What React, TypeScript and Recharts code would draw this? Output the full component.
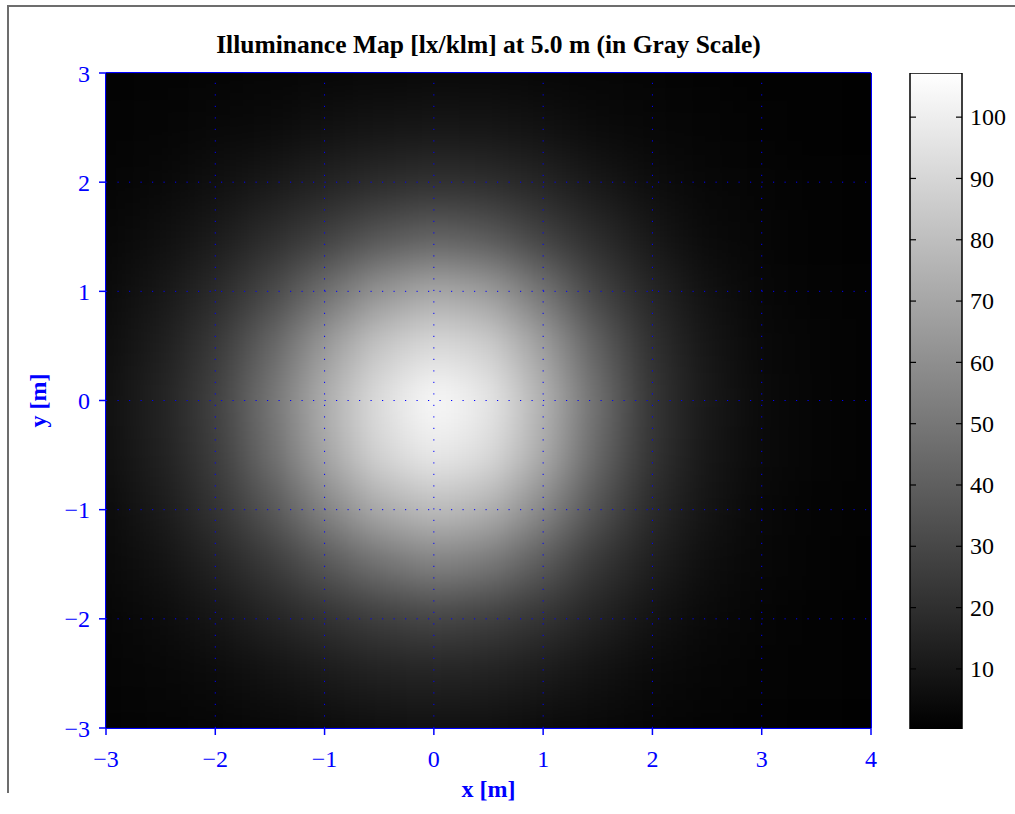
import React from 'react';
import {
  ScatterChart,
  BarChart,
  Bar,
  Scatter,
  XAxis,
  YAxis,
  ReferenceLine,
  ReferenceArea,
  CartesianGrid,
} from 'recharts';

// ---------- text ----------
const TITLE = 'Illuminance Map [lx/klm] at 5.0 m (in Gray Scale)';
const X_LABEL = 'x [m]';
const Y_LABEL = 'y [m]';

// ---------- axes ----------
const X_DOMAIN = [-3, 4];
const Y_DOMAIN = [-3, 3];
const X_TICKS = [-3, -2, -1, 0, 1, 2, 3, 4];
const Y_TICKS = [-3, -2, -1, 0, 1, 2, 3];
const X_GRID = [-2, -1, 0, 1, 2, 3];
const Y_GRID = [-2, -1, 0, 1, 2];
const CB_TICKS = [10, 20, 30, 40, 50, 60, 70, 80, 90, 100];
const CB_DOMAIN = [0.2, 107.2];
const CB_BAR = [{ name: 'colorbar', range: CB_DOMAIN }];

const GRID_X = [-3, -2.5, -2, -1.5, -1, -0.5, 0, 0.5, 1, 1.5, 2, 2.5, 3, 3.5, 4];
const GRID_Y = [3, 2.5, 2, 1.5, 1, 0.5, 0, -0.5, -1, -1.5, -2, -2.5, -3];
const ROW_P30 = [1.3, 1.7, 2.2, 2.7, 3.2, 3.7, 3.9, 3.8, 3.3, 2.7, 2.1, 1.5, 1.1, 0.9, 0.6];
const ROW_P25 = [1.8, 2.5, 3.4, 4.6, 7.1, 8.6, 9.5, 9.0, 7.3, 4.6, 3.2, 2.2, 1.5, 1.1, 0.8];
const ROW_P20 = [2.5, 3.7, 6.5, 10.2, 14.5, 18.3, 20.5, 19.0, 15.2, 10, 5.5, 3.3, 2.1, 1.4, 0.9];
const ROW_P15 = [3.3, 6.2, 11.1, 18.6, 26.5, 36.0, 41.0, 37.5, 27.5, 18.3, 10, 4.6, 2.6, 1.6, 1.1];
const ROW_P10 = [4.3, 9.5, 17.5, 29.5, 46.5, 62.5, 70.5, 66.0, 49.0, 28.5, 15.6, 7.3, 3.3, 2, 1.3];
const ROW_P05 = [5.8, 12.2, 23.5, 42.0, 65.0, 83.5, 92.0, 87.5, 67.5, 40.5, 20.4, 9.5, 4, 2.2, 1.4];
const ROW_000 = [6.8, 14.5, 27.0, 48.5, 73.3, 93.3, 106, 97.8, 75.4, 46.6, 22.4, 10.5, 4.3, 2.3, 1.4];
const ROW_M05 = [6.5, 13.8, 25.5, 45.5, 69.5, 89.4, 99.0, 92.8, 72.2, 43.6, 21.7, 10, 4.2, 2.3, 1.4];
const ROW_M10 = [5, 11.2, 21.0, 36.0, 55.5, 72.2, 79.9, 75.4, 57.7, 34.5, 17.9, 8.5, 3.6, 2, 1.3];
const ROW_M15 = [3.9, 7.9, 14.8, 24.0, 36.5, 48.2, 55.0, 50.8, 38.0, 23.0, 13.1, 6.1, 3.0, 1.8, 1.2];
const ROW_M20 = [2.9, 4.8, 9.0, 14.8, 20.7, 25.7, 29.1, 26.7, 21.4, 14.5, 8, 4, 2.4, 1.5, 1];
const ROW_M25 = [2.2, 3.3, 4.7, 7.9, 10.9, 14.2, 15.4, 14.5, 11.4, 7.7, 4.3, 2.7, 1.8, 1.3, 0.9];
const ROW_M30 = [1.6, 2.2, 2.9, 3.9, 5.2, 6.8, 7.3, 7.1, 5.4, 3.8, 2.7, 1.9, 1.4, 1.0, 0.7];
const ILLUM_ROWS = [
  ROW_P30, ROW_P25, ROW_P20, ROW_P15, ROW_P10, ROW_P05, ROW_000,
  ROW_M05, ROW_M10, ROW_M15, ROW_M20, ROW_M25, ROW_M30,
];
const GRID_STEP = 0.5;

const CELLS = GRID_Y.flatMap((y, r) => GRID_X.map((x, c) => ({ x, y, v: ILLUM_ROWS[r][c] })));

// ---------- style ----------
const SERIF = '"Liberation Serif", "Times New Roman", Times, serif';
const BLUE = '#0000ff';

// main chart layout
const MAIN_W = 900;
const MAIN_H = 800;
const MAIN_MARGIN = { top: 55, right: 27, bottom: 20, left: 38 };
const Y_LEFT_W = 60;
const Y_RIGHT_W = 10;
const X_BOTTOM_H = 60;
const X_TOP_H = 10;
const PLOT_W = MAIN_W - MAIN_MARGIN.left - MAIN_MARGIN.right - Y_LEFT_W - Y_RIGHT_W;
const PLOT_H = MAIN_H - MAIN_MARGIN.top - MAIN_MARGIN.bottom - X_BOTTOM_H - X_TOP_H;
const CELL_W = (PLOT_W / (X_DOMAIN[1] - X_DOMAIN[0])) * GRID_STEP + 1;
const CELL_H = (PLOT_H / (Y_DOMAIN[1] - Y_DOMAIN[0])) * GRID_STEP + 1;

// colorbar layout
const CB_W = 110;
const CB_H = 700;
const CB_MARGIN = { top: 10, right: 8, bottom: 34, left: 10 };
const CB_AXIS_W = 40;
const CB_BAR_W = CB_W - CB_MARGIN.left - CB_MARGIN.right - CB_AXIS_W;

const grayOf = (v: number) => {
  const t = Math.max(0, Math.min(1, (v - CB_DOMAIN[0]) / (CB_DOMAIN[1] - CB_DOMAIN[0])));
  const g = Math.round(t * 255);
  return `rgb(${g},${g},${g})`;
};

const fmt = (v: number) => String(v).replace('-', '\u2212');

const HeatCell = (props: any) => {
  const { cx, cy, payload } = props;
  if (cx == null || cy == null) return null;
  return (
    <rect
      x={cx - CELL_W / 2}
      y={cy - CELL_H / 2}
      width={CELL_W}
      height={CELL_H}
      fill={grayOf(payload.v)}
    />
  );
};

const TitleLabel = (props: any) => {
  const vb = props.viewBox || {};
  return (
    <text
      x={vb.x + vb.width / 2}
      y={vb.y - 10}
      textAnchor="middle"
      fontFamily={SERIF}
      fontWeight="bold"
      fontSize={25.5}
      fill="#000"
    >
      {TITLE}
    </text>
  );
};

const XAxisLabel = (props: any) => {
  const vb = props.viewBox || {};
  return (
    <text
      x={vb.x + vb.width / 2}
      y={vb.y + 68.5}
      textAnchor="middle"
      fontFamily={SERIF}
      fontWeight="bold"
      fontSize={24}
      fill={BLUE}
    >
      {X_LABEL}
    </text>
  );
};

const YAxisLabel = (props: any) => {
  const vb = props.viewBox || {};
  const x = vb.x;
  const y = vb.y + vb.height / 2;
  return (
    <text
      x={x}
      y={y}
      transform={`rotate(-90, ${x}, ${y})`}
      textAnchor="middle"
      fontFamily={SERIF}
      fontWeight="bold"
      fontSize={24}
      fill={BLUE}
    >
      {Y_LABEL}
    </text>
  );
};

const CbTick = (props: any) => {
  const { x, y, payload } = props;
  return (
    <g>
      <line x1={x - CB_BAR_W} y1={y} x2={x - CB_BAR_W + 6} y2={y} stroke="#000" strokeWidth={1.2} />
      <line x1={x - 6} y1={y} x2={x} y2={y} stroke="#000" strokeWidth={1.2} />
      <text x={x + 8} y={y} dy="0.34em" textAnchor="start" fontFamily={SERIF} fontSize={24} fill="#000">
        {payload.value}
      </text>
    </g>
  );
};

const tickStyle = { fill: BLUE, fontSize: 24, fontFamily: SERIF };
const axisLineStyle = { stroke: BLUE, strokeWidth: 2 };
const tickLineStyle = { stroke: BLUE, strokeWidth: 1.5 };

export default function App() {
  return (
    <div style={{ position: 'relative', width: 999, height: 798 }}>
      <style>{'body{overflow:hidden} .heat-layer{filter:url(#heatBlur)}'}</style>
      <svg width={0} height={0} style={{ position: 'absolute' }}>
        <defs>
          <filter
            id="heatBlur"
            x="-5%"
            y="-5%"
            width="110%"
            height="110%"
            colorInterpolationFilters="sRGB"
          >
            <feGaussianBlur stdDeviation={22} />
          </filter>
          <linearGradient id="cbGrad" x1="0" y1="1" x2="0" y2="0">
            <stop offset="0%" stopColor="#000" />
            <stop offset="100%" stopColor="#fff" />
          </linearGradient>
        </defs>
      </svg>

      <div style={{ position: 'absolute', left: 0, top: 0 }}>
        <ScatterChart width={MAIN_W} height={MAIN_H} margin={MAIN_MARGIN}>
          <CartesianGrid fill="#000" fillOpacity={1} horizontal={false} vertical={false} />
          <ReferenceArea
            x1={X_DOMAIN[0]}
            x2={X_DOMAIN[1]}
            y1={Y_DOMAIN[0]}
            y2={Y_DOMAIN[1]}
            fill="#000"
            fillOpacity={1}
            stroke="none"
            ifOverflow="hidden"
          />
          <Scatter
            className="heat-layer"
            data={CELLS}
            dataKey="v"
            shape={HeatCell}
            isAnimationActive={false}
          />
          {X_GRID.map((v) => (
            <ReferenceLine
              key={'gx' + v}
              x={v}
              stroke={BLUE}
              strokeWidth={1}
              strokeDasharray="1.2 10.3"
              zIndex={700}
            />
          ))}
          {Y_GRID.map((v) => (
            <ReferenceLine
              key={'gy' + v}
              y={v}
              stroke={BLUE}
              strokeWidth={1}
              strokeDasharray="1.2 10.3"
              zIndex={700}
            />
          ))}
          <XAxis
            dataKey="x"
            type="number"
            domain={X_DOMAIN}
            ticks={X_TICKS}
            interval={0}
            allowDataOverflow
            height={X_BOTTOM_H}
            tick={tickStyle}
            tickFormatter={fmt}
            tickSize={7}
            tickMargin={15}
            axisLine={axisLineStyle}
            tickLine={tickLineStyle}
            label={XAxisLabel}
          />
          <XAxis
            xAxisId="top"
            orientation="top"
            type="number"
            domain={X_DOMAIN}
            ticks={X_TICKS}
            interval={0}
            allowDataOverflow
            height={X_TOP_H}
            tick={false}
            tickSize={7}
            axisLine={axisLineStyle}
            tickLine={tickLineStyle}
            label={TitleLabel}
          />
          <YAxis
            dataKey="y"
            type="number"
            domain={Y_DOMAIN}
            ticks={Y_TICKS}
            interval={0}
            allowDataOverflow
            width={Y_LEFT_W}
            tick={tickStyle}
            tickFormatter={fmt}
            tickSize={7}
            tickMargin={9}
            axisLine={axisLineStyle}
            tickLine={tickLineStyle}
            label={YAxisLabel}
          />
          <YAxis
            yAxisId="right"
            orientation="right"
            type="number"
            domain={Y_DOMAIN}
            ticks={Y_TICKS}
            interval={0}
            allowDataOverflow
            width={Y_RIGHT_W}
            tick={false}
            tickSize={7}
            axisLine={axisLineStyle}
            tickLine={tickLineStyle}
          />
        </ScatterChart>
      </div>

      <div style={{ position: 'absolute', left: 892, top: 55 }}>
        <BarChart
          width={CB_W}
          height={CB_H}
          margin={CB_MARGIN}
          data={CB_BAR}
          barCategoryGap={0}
          barGap={0}
        >
          <XAxis dataKey="name" type="category" hide />
          <YAxis
            orientation="right"
            type="number"
            domain={CB_DOMAIN}
            ticks={CB_TICKS}
            interval={0}
            allowDataOverflow
            width={CB_AXIS_W}
            tickSize={0}
            tickMargin={0}
            axisLine={false}
            tickLine={false}
            tick={CbTick}
          />
          <Bar
            dataKey="range"
            fill="url(#cbGrad)"
            stroke="#000"
            strokeWidth={1.5}
            isAnimationActive={false}
          />
        </BarChart>
      </div>

      {/* figure frame (top and left edges of the exported figure) */}
      <div
        style={{
          position: 'fixed',
          left: 7,
          top: 5,
          width: 1010,
          height: 786,
          borderTop: '2px solid #6d6d6d',
          borderLeft: '2px solid #6d6d6d',
          pointerEvents: 'none',
          zIndex: 10,
        }}
      />
    </div>
  );
}
